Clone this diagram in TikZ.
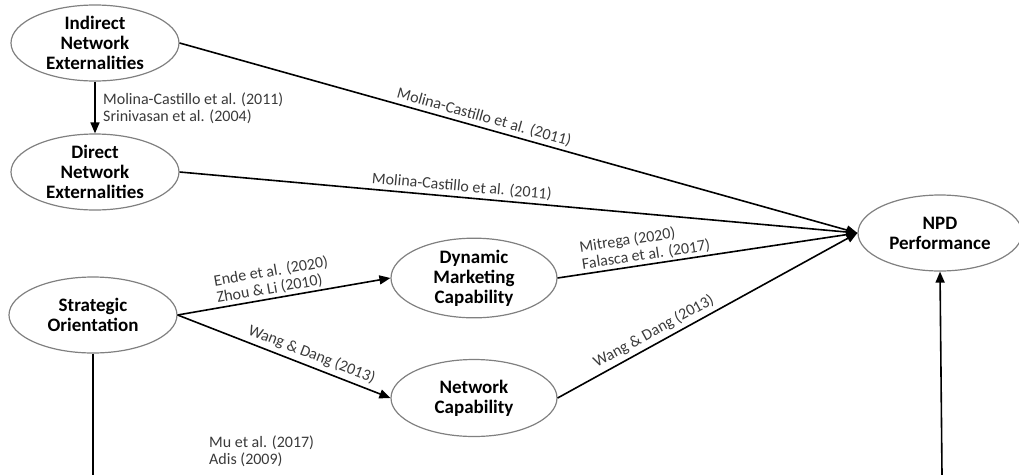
\documentclass[tikz,border=0pt]{standalone}
\usepackage{fontspec}
\setmainfont{Carlito}
\usetikzlibrary{shapes.geometric,arrows.meta}
\definecolor{ringgray}{HTML}{808080}
\definecolor{cite}{HTML}{3A3A3A}
\tikzset{
  construct/.style={ellipse, draw=ringgray, line width=1.2pt, inner sep=0pt,
    minimum width=168pt, minimum height=76pt, align=center,
    font=\fontsize{19}{20}\selectfont\bfseries},
  link/.style={line width=1.6pt, -{Triangle[length=11pt,width=9pt]}},
  plain/.style={line width=1.6pt},
  ref/.style={text=cite, font=\fontsize{16}{17}\selectfont, align=left, inner sep=1pt}
}
\begin{document}
\begin{tikzpicture}[x=1pt,y=-1pt]
\useasboundingbox (0,0) rectangle (1019,474);

% constructs
\node[construct] (ine) at (95,43)  {Indirect\\Network\\Externalities};
\node[construct] (dne) at (95,172) {Direct\\Network\\Externalities};
\node[construct] (so)  at (93,315) {Strategic\\Orientation};
\node[construct, minimum width=166pt, minimum height=77pt] (dmc) at (474,278) {Dynamic\\Marketing\\Capability};
\node[construct, minimum width=166pt, minimum height=77pt] (nc)  at (474,398) {Network\\Capability};
\node[construct, minimum width=164pt] (npd) at (940,233) {NPD\\Performance};

\coordinate (sobot)  at (93,475);
\coordinate (npdbot) at (942,475);

% paths
\draw[link] (ine) -- (dne);
\draw[link] (ine.east) -- (npd.west)
  node[ref, pos=0.445, sloped, above=2pt] {Molina-Castillo et al. (2011)};
\draw[link] (dne.east) -- (npd.west)
  node[ref, pos=0.415, sloped, above=2pt] {Molina-Castillo et al. (2011)};
\draw[link] (dmc.east) -- (npd.west)
  node[ref, pos=0.30, sloped, above=1pt] {Mitrega (2020)\\Falasca et al. (2017)};
\draw[link] (nc.east) -- (npd.west)
  node[ref, pos=0.34, sloped, above=3pt] {Wang \& Dang (2013)};
\draw[link] (so.east) -- (dmc.west)
  node[ref, pos=0.46, sloped, above=1pt] {Ende et al. (2020)\\Zhou \& Li (2010)};
\draw[link] (so.east) -- (nc.west)
  node[ref, pos=0.61, sloped, above=3pt] {Wang \& Dang (2013)};
\draw[plain] (so.south) -- (sobot);
\draw[link] (npdbot) -- (npd.south);

% citations set beside vertical paths
\node[ref, anchor=west] (refa) at (102,108) {Molina-Castillo et al. (2011)\\Srinivasan et al. (2004)};
\node[ref, anchor=west] (refb) at (208,451) {Mu et al. (2017)\\Adis (2009)};
\end{tikzpicture}
\end{document}
